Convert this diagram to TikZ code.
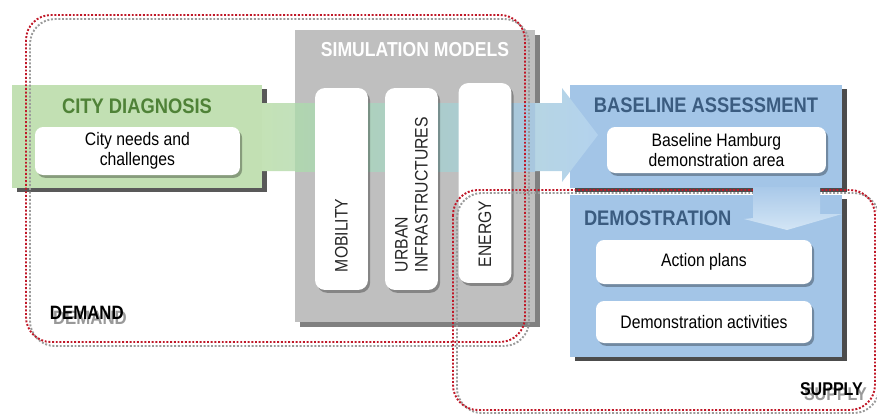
\documentclass[tikz,border=0pt]{standalone}
\usepackage{fontspec}
\setmainfont{Liberation Sans}[FakeStretch=0.87]
\usetikzlibrary{shadows}
\definecolor{cdgreen}{HTML}{C2E0B3}
\definecolor{cdtext}{HTML}{4F8237}
\definecolor{blbox}{HTML}{A3C5E7}
\definecolor{bltext}{HTML}{3B5C80}
\definecolor{simgray}{HTML}{BFBFBF}
\definecolor{dotred}{HTML}{C01828}
\definecolor{dotgray}{HTML}{9A9A9A}
\definecolor{arrgreen}{HTML}{C4E2B6}
\definecolor{arrblue}{HTML}{B3D2EE}
\definecolor{bandgreen}{HTML}{B0D5AF}
\definecolor{bandblue}{HTML}{A8C7DF}
\definecolor{downtop}{HTML}{A9C9E9}
\definecolor{downbot}{HTML}{D3E5F5}
% block arrow carrying the flow from diagnosis to assessment
\newcommand\bigarrow[1]{\path[#1] (262,103) -- (562,103) -- (562,88) -- (598,135) -- (562,182) -- (562,171) -- (262,171) -- cycle;}

\begin{document}
\begin{tikzpicture}[x=0.02cm, y=-0.02cm,
  every node/.style={inner sep=0pt, outer sep=0pt},
  panel/.style={rectangle},
  hardshadow/.style={general shadow={fill=#1, shadow xshift=2.8pt, shadow yshift=-2.4pt}},
  card/.style={rectangle, rounded corners=0.16cm, fill=white, align=center,
     font=\fontsize{10.3}{11.5}\selectfont,
     general shadow={fill=black, opacity=0.3, shadow xshift=1.2pt, shadow yshift=-1.6pt}},
  pillar/.style={rectangle, rounded corners=0.2cm, fill=white, minimum width=1.06cm,
     general shadow={fill=black, opacity=0.3, shadow xshift=1.2pt, shadow yshift=-1.6pt}},
  headtext/.style={font=\bfseries\fontsize{12}{14}\selectfont},
  pillartext/.style={rotate=90, anchor=west, align=left, font=\fontsize{10.3}{11.5}\selectfont, text=black!85},
  dotline/.style={line width=1.1pt, dash pattern=on 1.1pt off 1pt, rounded corners=0.5cm},
  tag/.style={font=\bfseries\fontsize{11}{13}\selectfont, anchor=west}
]
\useasboundingbox (0,0) rectangle (877,414);

% simulation models panel
\node[panel, fill=simgray, minimum width=4.8cm, minimum height=5.84cm,
      general shadow={fill=black!50, shadow xshift=2.8pt, shadow yshift=-2.6pt}] (sim) at (415,176) {};
% baseline and demonstration panels
\node[panel, fill=blbox, minimum width=5.44cm, minimum height=2.06cm, hardshadow=black!70] (base) at (706,136.5) {};
\node[panel, fill=blbox, minimum width=5.44cm, minimum height=3.24cm, hardshadow=black!70] (demo) at (706,276) {};
% city diagnosis panel
\node[panel, fill=cdgreen, minimum width=5cm, minimum height=2.06cm, hardshadow=black!65] (city) at (137,136.5) {};

% flow arrow, and the tinted band where it crosses the grey panel
\bigarrow{left color=arrgreen, right color=arrblue}
\shade[left color=bandgreen, right color=bandblue] (295,103) rectangle (535,171);

% city diagnosis content
\node[headtext, text=cdtext] (cityT) at (137,106) {CITY DIAGNOSIS};
\node[card, minimum width=4.1cm, minimum height=0.96cm] (needs) at (137.5,151) {City needs and\\challenges};

% simulation models content
\node[text=white, font=\bfseries\fontsize{11.5}{13}\selectfont] (simT) at (415,50) {SIMULATION MODELS};
\node[pillar, minimum height=4.04cm] (mob) at (341.5,189) {};
\node[pillar, minimum height=4.04cm] (urb) at (411.5,189) {};
\node[pillar, minimum height=4.0cm] (ene) at (485,183) {};
\node[pillartext] (mobT) at (341.5,272) {MOBILITY};
\node[pillartext] (urbT) at (411.5,272) {URBAN\\INFRASTRUCTURES};
\node[pillartext] (eneT) at (485,267) {ENERGY};

% baseline assessment content
\node[headtext, text=bltext] (baseT) at (706,105) {BASELINE ASSESSMENT};
\node[card, minimum width=4.38cm, minimum height=0.92cm] (hamb) at (716.5,150) {Baseline Hamburg\\demonstration area};

% demonstration content
\node[headtext, text=bltext, anchor=west] (demoT) at (584,218) {DEMOSTRATION};
\node[card, minimum width=4.32cm, minimum height=0.88cm] (plans) at (704,262) {Action plans};
\node[card, minimum width=4.32cm, minimum height=0.84cm] (acts) at (704,322) {Demonstration activities};

% demand and supply regions
\draw[dotline, dotgray] (30,19) rectangle (529,346);
\draw[dotline, dotred] (26,15) rectangle (525,342);
\draw[dotline, dotgray] (457,193) rectangle (879,413);
\draw[dotline, dotred] (453,190) rectangle (875,410);

% arrow from assessment down to demonstration
\shade[top color=downtop, bottom color=downbot]
  (753,187) -- (820,187) -- (820,214) -- (842,214) -- (787,230) -- (744,219) -- (753,218) -- cycle;

% region labels with their soft shadows
\node[tag, text=black!40] (demandS) at (53,318) {DEMAND};
\node[tag] (demand) at (50,313) {DEMAND};
\node[tag, text=black!40, font=\bfseries\fontsize{10.5}{12}\selectfont] (supplyS) at (804,394) {SUPPLY};
\node[tag, font=\bfseries\fontsize{10.5}{12}\selectfont] (supply) at (800,389) {SUPPLY};
\end{tikzpicture}
\end{document}
